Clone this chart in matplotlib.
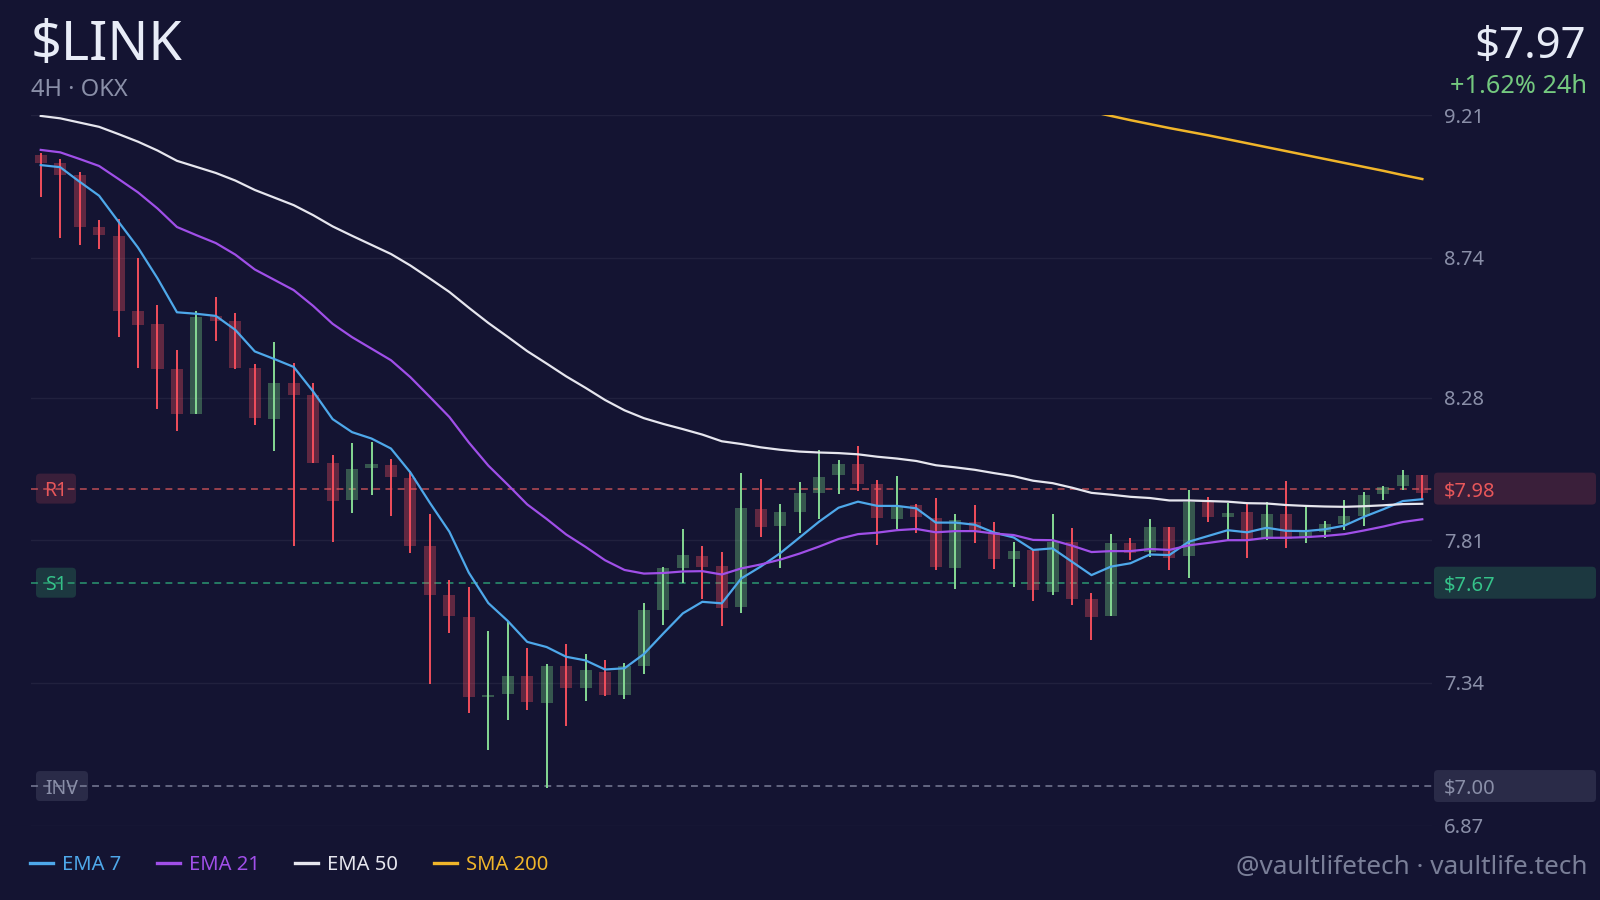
import numpy as np
import matplotlib.pyplot as plt
from matplotlib.lines import Line2D
from matplotlib.patches import FancyBboxPatch
from matplotlib.transforms import IdentityTransform

plt.rcParams['font.family'] = ['Noto Sans', 'DejaVu Sans']

# 4H candles, LINK/USDT on OKX
opens = [9.079, 9.054, 9.012, 8.843, 8.813, 8.564, 8.522, 8.373, 8.226, 8.549,
         8.532, 8.377, 8.209, 8.328, 8.290, 8.063, 7.942, 8.048, 8.057, 8.014,
         7.791, 7.630, 7.558, 7.292, 7.304, 7.364, 7.272, 7.395, 7.322, 7.375,
         7.301, 7.396, 7.579, 7.717, 7.759, 7.724, 7.589, 7.914, 7.856, 7.904,
         7.967, 8.025, 8.060, 7.994, 7.879, 7.926, 7.882, 7.717, 7.871, 7.836,
         7.749, 7.778, 7.640, 7.805, 7.615, 7.561, 7.800, 7.771, 7.854, 7.758,
         7.939, 7.885, 7.903, 7.813, 7.896, 7.816, 7.838, 7.863, 7.890, 7.962,
         7.988, 8.025]
highs = [9.085, 9.066, 9.023, 8.865, 8.868, 8.739, 8.585, 8.437, 8.565, 8.612,
         8.558, 8.390, 8.462, 8.394, 8.327, 8.092, 8.130, 8.132, 8.077, 8.039,
         7.895, 7.679, 7.656, 7.510, 7.541, 7.455, 7.402, 7.467, 7.435, 7.414,
         7.404, 7.603, 7.723, 7.848, 7.792, 7.772, 8.031, 8.012, 7.929, 8.002,
         8.106, 8.073, 8.121, 8.007, 8.021, 7.929, 7.950, 7.895, 7.926, 7.871,
         7.803, 7.778, 7.896, 7.849, 7.635, 7.832, 7.816, 7.879, 7.854, 7.975,
         7.951, 7.934, 7.929, 7.936, 8.006, 7.920, 7.874, 7.944, 7.970, 7.988,
         8.041, 8.025]
lows = [8.942, 8.805, 8.783, 8.770, 8.479, 8.378, 8.242, 8.170, 8.226, 8.467,
        8.373, 8.190, 8.105, 7.792, 8.063, 7.804, 7.900, 7.959, 7.890, 7.768,
        7.336, 7.505, 7.241, 7.119, 7.216, 7.249, 6.995, 7.199, 7.279, 7.296,
        7.287, 7.369, 7.530, 7.668, 7.615, 7.527, 7.569, 7.819, 7.717, 7.833,
        7.880, 7.961, 7.973, 7.793, 7.847, 7.835, 7.712, 7.649, 7.802, 7.714,
        7.657, 7.611, 7.628, 7.596, 7.481, 7.561, 7.745, 7.756, 7.712, 7.687,
        7.871, 7.810, 7.753, 7.810, 7.783, 7.800, 7.816, 7.843, 7.857, 7.942,
        7.975, 7.942]
closes = [9.054, 9.012, 8.843, 8.817, 8.565, 8.520, 8.373, 8.227, 8.545, 8.533,
          8.376, 8.212, 8.328, 8.290, 8.065, 7.938, 8.044, 8.060, 8.018, 7.791,
          7.630, 7.560, 7.294, 7.301, 7.363, 7.276, 7.395, 7.322, 7.381, 7.301,
          7.395, 7.579, 7.717, 7.762, 7.722, 7.588, 7.915, 7.855, 7.903, 7.964,
          8.019, 8.060, 7.994, 7.882, 7.923, 7.886, 7.723, 7.877, 7.840, 7.749,
          7.775, 7.646, 7.805, 7.615, 7.558, 7.800, 7.769, 7.852, 7.753, 7.937,
          7.885, 7.898, 7.813, 7.896, 7.814, 7.838, 7.863, 7.890, 7.959, 7.986,
          8.024, 7.966]

# moving averages
ema7 = [9.046, 9.039, 8.991, 8.945, 8.859, 8.774, 8.673, 8.561, 8.556, 8.549,
        8.503, 8.432, 8.407, 8.381, 8.300, 8.209, 8.166, 8.145, 8.112, 8.033,
        7.933, 7.838, 7.703, 7.603, 7.544, 7.475, 7.458, 7.426, 7.414, 7.384,
        7.388, 7.435, 7.503, 7.569, 7.607, 7.602, 7.684, 7.723, 7.767, 7.819,
        7.871, 7.917, 7.937, 7.923, 7.923, 7.915, 7.868, 7.868, 7.861, 7.835,
        7.819, 7.778, 7.783, 7.739, 7.695, 7.723, 7.734, 7.763, 7.761, 7.805,
        7.824, 7.843, 7.836, 7.851, 7.841, 7.840, 7.846, 7.858, 7.887, 7.912,
        7.939, 7.945]
ema21 = [9.096, 9.088, 9.066, 9.043, 9.000, 8.956, 8.903, 8.842, 8.815, 8.789,
         8.751, 8.702, 8.668, 8.634, 8.582, 8.523, 8.479, 8.441, 8.403, 8.347,
         8.282, 8.216, 8.132, 8.056, 7.993, 7.928, 7.880, 7.829, 7.788, 7.744,
         7.712, 7.700, 7.702, 7.707, 7.708, 7.697, 7.717, 7.730, 7.746, 7.766,
         7.789, 7.814, 7.830, 7.835, 7.843, 7.847, 7.836, 7.840, 7.840, 7.832,
         7.827, 7.811, 7.810, 7.792, 7.771, 7.774, 7.774, 7.781, 7.778, 7.793,
         7.801, 7.810, 7.810, 7.818, 7.818, 7.820, 7.824, 7.830, 7.842, 7.855,
         7.870, 7.879]
ema50 = [9.208, 9.200, 9.186, 9.172, 9.148, 9.123, 9.094, 9.060, 9.040, 9.020,
         8.995, 8.964, 8.939, 8.914, 8.881, 8.844, 8.813, 8.783, 8.753, 8.715,
         8.672, 8.628, 8.576, 8.526, 8.480, 8.433, 8.392, 8.350, 8.312, 8.272,
         8.238, 8.212, 8.193, 8.176, 8.158, 8.136, 8.127, 8.116, 8.108, 8.102,
         8.099, 8.097, 8.093, 8.085, 8.079, 8.071, 8.057, 8.050, 8.042, 8.031,
         8.021, 8.006, 7.998, 7.983, 7.966, 7.960, 7.953, 7.949, 7.941, 7.941,
         7.939, 7.937, 7.932, 7.931, 7.926, 7.923, 7.921, 7.920, 7.922, 7.925,
         7.929, 7.930]
sma200_start = 54
sma200 = [9.222, 9.208, 9.194, 9.181, 9.168, 9.156, 9.144, 9.131, 9.118, 9.105,
          9.092, 9.079, 9.066, 9.053, 9.040, 9.027, 9.013, 9.000]

# key levels: name, price, line colour, text colour, badge colour
levels = [("R1", 7.98, '#d9575a', '#e8575a', '#3a1f3a'),
          ("S1", 7.67, '#2fae7c', '#35c38a', '#1c3840'),
          ("INV", 7.00, '#8a8fa8', '#8a8fa8', '#2a2b48')]

yticks = [6.87, 7.34, 7.81, 8.28, 8.74, 9.21]
ytick_labels = ["6.87", "7.34", "7.81", "8.28", "8.74", "9.21"]

BG = '#141432'
GRID = '#21213e'
MUTED = '#8a8fa8'
UP_BODY, UP_WICK = '#7ee08a', '#86d993'
DN_BODY, DN_WICK = '#ef4f5f', '#f24e5c'

fig = plt.figure(figsize=(16, 9), dpi=100, facecolor=BG)
ax = fig.add_axes([31 / 1600, 1 - 825.5 / 900, 1401 / 1600, 710.2 / 900])
ax.set_facecolor(BG)

x = np.arange(len(closes))
o = np.array(opens)
c = np.array(closes)
h = np.array(highs)
l = np.array(lows)
up = c >= o
dn = ~up

# candle bodies and wicks
ax.bar(x[up], np.abs(c - o)[up], bottom=np.minimum(o, c)[up], width=0.62,
       color=UP_BODY, alpha=0.33, zorder=2)
ax.bar(x[dn], np.abs(c - o)[dn], bottom=np.minimum(o, c)[dn], width=0.62,
       color=DN_BODY, alpha=0.35, zorder=2)
ax.vlines(x[up], l[up], h[up], color=UP_WICK, lw=1.4, zorder=3)
ax.vlines(x[dn], l[dn], h[dn], color=DN_WICK, lw=1.4, zorder=3)

# moving averages
l7, = ax.plot(x, ema7, color='#4ea8ea', lw=1.6, zorder=4)
l21, = ax.plot(x, ema21, color='#a04fe8', lw=1.6, zorder=4)
l50, = ax.plot(x, ema50, color='#e6e6ee', lw=1.6, zorder=4)
l200, = ax.plot(np.arange(sma200_start, sma200_start + len(sma200)), sma200,
                color='#f0b52a', lw=1.8, zorder=4)

ax.set_xlim(-0.5, len(closes) - 0.5)
ax.set_ylim(6.87, 9.21)
ax.set_xticks([])
ax.yaxis.tick_right()
ax.set_yticks(yticks, ytick_labels)
ax.tick_params(axis='y', length=0, pad=8.5, labelsize=14.5, labelcolor=MUTED)
ax.grid(axis='y', color=GRID, lw=1, zorder=0)
ax.set_axisbelow(True)
for s in ax.spines.values():
    s.set_visible(False)

# level lines with badges on both sides (badges are placed in pixels)
px = IdentityTransform()
for name, val, lc, tc, bc in levels:
    ax.axhline(val, color=lc, lw=1.1, ls=(0, (4.5, 3.5)), alpha=0.85, zorder=1.8)
    yp = ax.transData.transform((0, val))[1]
    w = 52 if name == "INV" else 40
    ax.add_patch(FancyBboxPatch((36, yp - 15), w, 30, boxstyle='round,pad=0,rounding_size=4',
                                transform=px, fc=bc, ec='none', zorder=1.5, clip_on=False))
    ax.text(36 + w / 2, yp, name, transform=px, ha='center', va='center_baseline',
            fontsize=14, color=tc, zorder=1.6)
    fig.add_artist(FancyBboxPatch((1434, yp - 16), 162, 32, boxstyle='round,pad=0,rounding_size=4',
                                  transform=px, fc=bc, ec='none'))
    fig.text(1444, yp, "$%.2f" % val, transform=px, ha='left', va='center_baseline',
             fontsize=14.5, color=tc, parse_math=False)

# header
fig.text(31 / 1600, 1 - 60 / 900, "$LINK", fontsize=38.8, color='#e8ecf7',
         va='baseline', parse_math=False)
fig.text(31 / 1600, 1 - 96 / 900, "4H · OKX", fontsize=17, color=MUTED, va='baseline')
fig.text(1586 / 1600, 1 - 58 / 900, "$7.97", fontsize=31.5, color='#e8ecf7',
         ha='right', va='baseline', parse_math=False)
fig.text(1587 / 1600, 1 - 93 / 900, "+1.62% 24h", fontsize=18.2, color='#74c97f',
         ha='right', va='baseline')

# legend and footer
handles = [Line2D([], [], color=ln.get_color(), lw=2.4) for ln in (l7, l21, l50, l200)]
fig.legend(handles, ["EMA 7", "EMA 21", "EMA 50", "SMA 200"], loc='center left',
           bbox_to_anchor=(30 / 1600, 1 - 865 / 900), ncol=4, frameon=False,
           fontsize=14.5, handlelength=1.15, handletextpad=0.45, columnspacing=1.75,
           borderpad=0, borderaxespad=0, labelcolor='linecolor')
fig.text(1587 / 1600, 1 - 874 / 900, "@vaultlifetech · vaultlife.tech", fontsize=18.8,
         color='#7a7f98', ha='right', va='baseline')

fig.savefig("out.png", dpi=100, facecolor=BG)
